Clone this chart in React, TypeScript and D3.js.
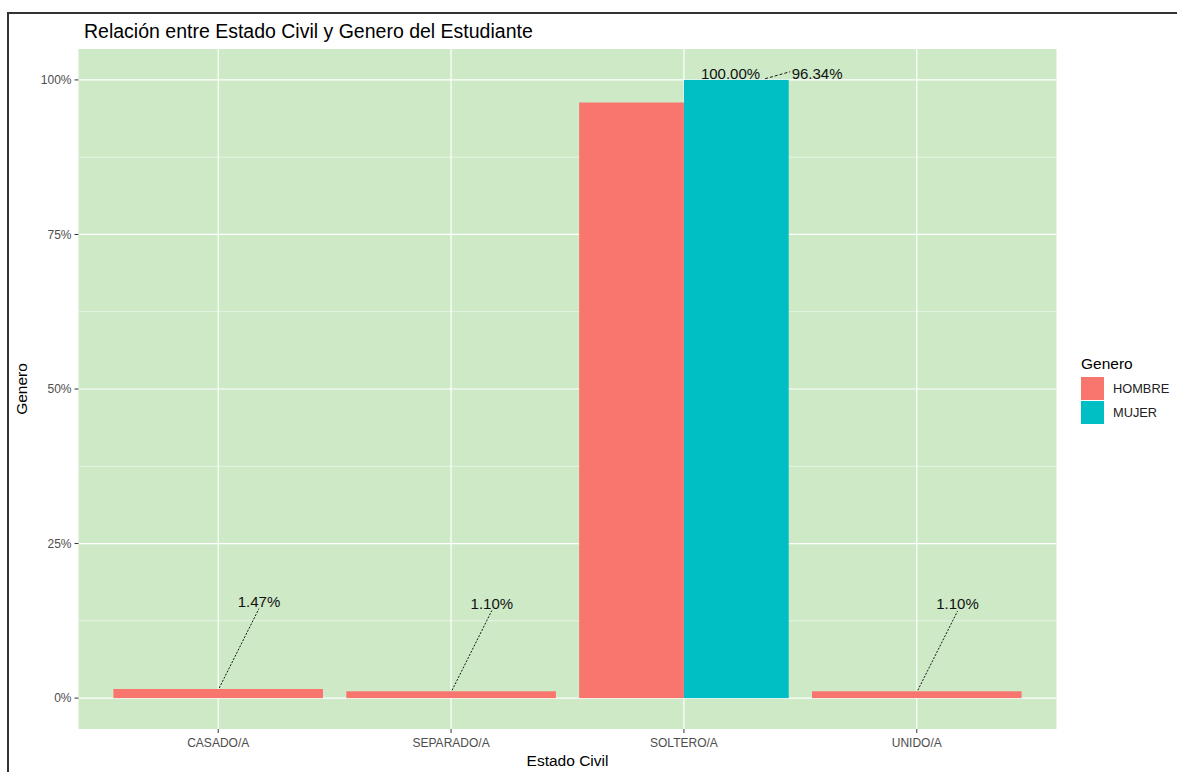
import React from "react";
import * as d3 from "d3";

const categories = ["CASADO/A", "SEPARADO/A", "SOLTERO/A", "UNIDO/A"];
const groups = ["HOMBRE", "MUJER"];
const hombreValues = [1.47, 1.1, 96.34, 1.1];
const mujerValues = [null, null, 100.0, null];
const yTicks = [0, 25, 50, 75, 100];
const yMinor = [12.5, 37.5, 62.5, 87.5];
// repel label placement (band-step offset, label y in %)
const labelNudges = [
  { cat: "CASADO/A", group: "HOMBRE", dx: 0.175, ly: 15.6 },
  { cat: "SEPARADO/A", group: "HOMBRE", dx: 0.175, ly: 15.3 },
  { cat: "SOLTERO/A", group: "HOMBRE", dx: 0.572, ly: 101.0 },
  { cat: "SOLTERO/A", group: "MUJER", dx: 0.2, ly: 101.0 },
  { cat: "UNIDO/A", group: "HOMBRE", dx: 0.175, ly: 15.2 },
];

const colors: Record<string, string> = { HOMBRE: "#F8766D", MUJER: "#00BFC4" };

export default function App() {
  const W = 1177, H = 772;
  const left = 78.5, right = 1056.5, top = 49, bottom = 729;
  const x = d3.scalePoint<string>().domain(categories).range([left, right]).padding(0.6);
  const step = x.step();
  const y = d3.scaleLinear().domain([-5, 105]).range([bottom, top]);
  const fmt = (v: number) => v.toFixed(2) + "%";

  type Bar = { cat: string; group: string; value: number; x0: number; x1: number };
  const bars: Bar[] = [];
  categories.forEach((c, i) => {
    const present = groups.filter((g) => (g === "HOMBRE" ? hombreValues[i] : mujerValues[i]) != null);
    const total = 0.9 * step;
    const w = total / present.length;
    const start = (x(c) as number) - total / 2;
    present.forEach((g, j) => {
      const v = (g === "HOMBRE" ? hombreValues[i] : mujerValues[i]) as number;
      bars.push({ cat: c, group: g, value: v, x0: start + j * w, x1: start + (j + 1) * w });
    });
  });

  const font = "Arial, 'Liberation Sans', Helvetica, sans-serif";

  return (
    <svg width={W} height={H} style={{ position: "absolute", left: 0, top: 0, background: "#fff" }} fontFamily={font}>
      <rect x={0} y={0} width={W} height={H} fill="#fff" />
      {/* frame */}
      <line x1={8} x2={W} y1={13} y2={13} stroke="#333" strokeWidth={2} />
      <line x1={8} x2={8} y1={12} y2={H} stroke="#333" strokeWidth={2} />
      {/* panel */}
      <rect x={left} y={top} width={right - left} height={bottom - top} fill="#CDE9C6" />
      {yMinor.map((t) => (
        <line key={"m" + t} x1={left} x2={right} y1={y(t)} y2={y(t)} stroke="#fff" strokeWidth={0.6} opacity={0.9} />
      ))}
      {yTicks.map((t) => (
        <line key={"g" + t} x1={left} x2={right} y1={y(t)} y2={y(t)} stroke="#fff" strokeWidth={1.2} />
      ))}
      {categories.map((c) => (
        <line key={"v" + c} x1={x(c)} x2={x(c)} y1={top} y2={bottom} stroke="#fff" strokeWidth={1.2} />
      ))}
      {bars.map((b) => (
        <rect key={b.cat + b.group} x={b.x0} width={b.x1 - b.x0} y={y(b.value)} height={y(0) - y(b.value)} fill={colors[b.group]} />
      ))}
      {/* labels */}
      {labelNudges.map((l) => {
        const b = bars.find((bb) => bb.cat === l.cat && bb.group === l.group)!;
        const bx = (b.x0 + b.x1) / 2;
        const lx = (x(l.cat) as number) + l.dx * step;
        const ly = y(l.ly);
        let seg = null as any;
        if (l.ly < 50) {
          seg = <line x1={bx + 1} y1={y(b.value) - 1} x2={lx} y2={ly + 7} stroke="#000" strokeWidth={0.9} strokeDasharray="2,1.5" />;
        } else if (l.group === "HOMBRE") {
          seg = <line x1={lx - 52} y1={ly + 5} x2={lx - 27} y2={ly - 2} stroke="#000" strokeWidth={0.9} strokeDasharray="3,2" />;
        }
        return (
          <g key={"l" + l.cat + l.group}>
            {seg}
            <text x={lx} y={ly} dy="0.35em" textAnchor="middle" fontSize={15} fill="#111">{fmt(b.value)}</text>
          </g>
        );
      })}
      {/* y axis */}
      {yTicks.map((t) => (
        <g key={"yt" + t}>
          <line x1={left - 4} x2={left} y1={y(t)} y2={y(t)} stroke="#333" strokeWidth={1} />
          <text x={left - 7} y={y(t)} dy="0.35em" textAnchor="end" fontSize={12} fill="#4d4d4d">{t + "%"}</text>
        </g>
      ))}
      {/* x axis */}
      {categories.map((c) => (
        <g key={"xt" + c}>
          <line x1={x(c)} x2={x(c)} y1={bottom} y2={bottom + 4} stroke="#333" strokeWidth={1} />
          <text x={x(c)} y={bottom + 18} textAnchor="middle" fontSize={12} fill="#4d4d4d">{c}</text>
        </g>
      ))}
      <text x={(left + right) / 2} y={766} textAnchor="middle" fontSize={15.5} fill="#000">Estado Civil</text>
      <text transform={`translate(27,${(top + bottom) / 2}) rotate(-90)`} textAnchor="middle" fontSize={15.5} fill="#000">Genero</text>
      <text x={84} y={38} fontSize={19.5} fill="#000">Relación entre Estado Civil y Genero del Estudiante</text>
      {/* legend */}
      <text x={1081} y={369} fontSize={15.5} fill="#000">Genero</text>
      {groups.map((g, i) => (
        <g key={"lg" + g}>
          <rect x={1081} y={377 + i * 24} width={23} height={23} fill={colors[g]} />
          <text x={1113} y={377 + i * 24 + 11.5} dy="0.35em" fontSize={12.8} fill="#222">{g}</text>
        </g>
      ))}
    </svg>
  );
}
